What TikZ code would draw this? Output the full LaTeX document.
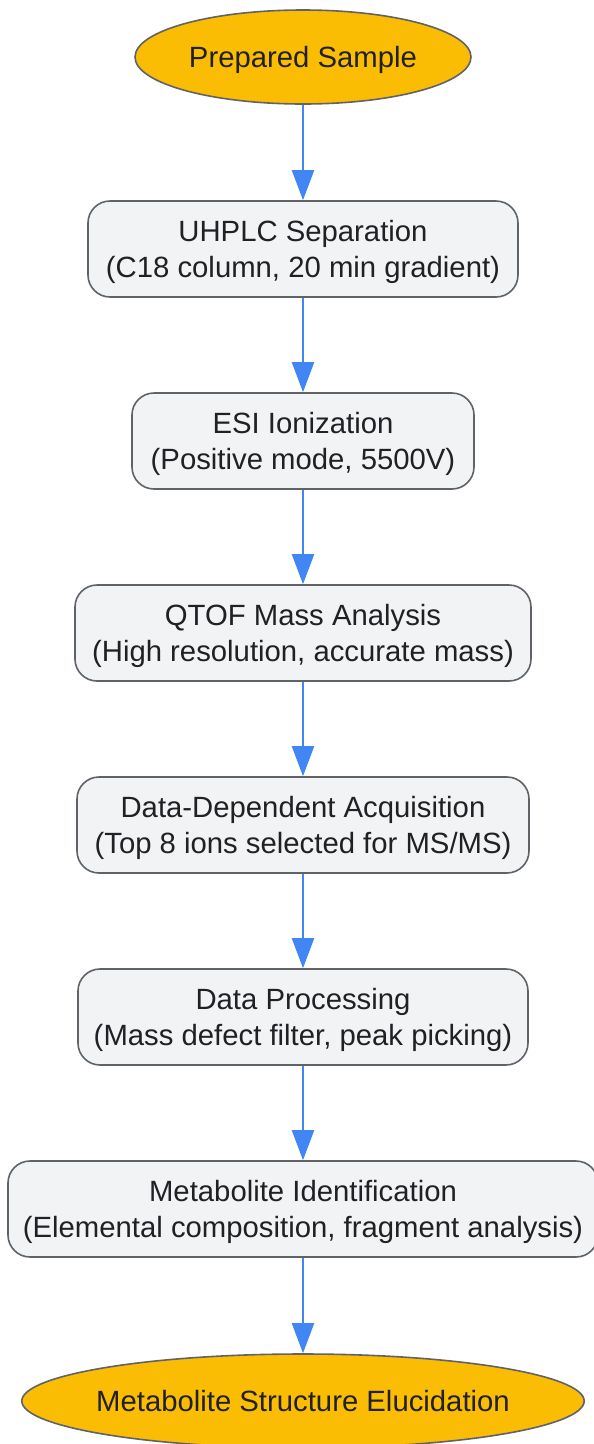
\documentclass[tikz,border=0pt]{standalone}
\usepackage{xcolor}
\usepackage{fontspec}
\setmainfont{Liberation Sans}
\usepackage{tikz}
\usetikzlibrary{shapes,positioning,arrows.meta}

\definecolor{termfill}{HTML}{FBBC04}
\definecolor{stepfill}{HTML}{F1F3F4}
\definecolor{edgegrey}{HTML}{5F6368}
\definecolor{flowblue}{HTML}{4285F4}
\definecolor{inkgrey}{HTML}{202124}

% struts that keep every label at the same height in its box
\newcommand{\linetop}{\rule{0pt}{31.8pt}}
\newcommand{\linebot}{\rule[-10.8pt]{0pt}{10.8pt}}

\tikzset{
  terminal/.style={ellipse,draw=edgegrey,fill=termfill,line width=1.6pt,
    minimum height=94pt,text=inkgrey,inner ysep=0pt,inner xsep=-8pt},
  stage/.style={rectangle,rounded corners=22pt,draw=edgegrey,fill=stepfill,
    line width=1.6pt,minimum height=96pt,align=center,text=inkgrey,inner sep=0pt},
  flow/.style={draw=flowblue,line width=2.2pt,
    -{Triangle[length=30pt,width=22pt]}}
}

\begin{document}
\begin{tikzpicture}[x=1pt,y=-1pt,font=\fontsize{29.3}{36}\selectfont]
\useasboundingbox (0,0) rectangle (594,1444);

\node[terminal,minimum width=336pt] (sample) at (303,57)
  {\linetop Prepared Sample\linebot};
\node[stage,minimum width=430pt] (uhplc) at (303,249)
  {\linetop UHPLC Separation\\(C18 column, 20 min gradient)\linebot};
\node[stage,minimum width=342pt] (esi) at (303,441)
  {\linetop ESI Ionization\\(Positive mode, 5500V)\linebot};
\node[stage,minimum width=456pt] (qtof) at (303,633)
  {\linetop QTOF Mass Analysis\\(High resolution, accurate mass)\linebot};
\node[stage,minimum width=452pt] (dda) at (303,825)
  {\linetop Data-Dependent Acquisition\\(Top 8 ions selected for MS/MS)\linebot};
\node[stage,minimum width=450pt] (proc) at (303,1017)
  {\linetop Data Processing\\(Mass defect filter, peak picking)\linebot};
\node[stage,minimum width=590pt] (ident) at (303,1209)
  {\linetop Metabolite Identification\\(Elemental composition, fragment analysis)\linebot};
\node[terminal,minimum width=560pt] (eluc) at (303,1401)
  {\linetop Metabolite Structure Elucidation\linebot};

\draw[flow] (sample) -- (uhplc);
\draw[flow] (uhplc) -- (esi);
\draw[flow] (esi) -- (qtof);
\draw[flow] (qtof) -- (dda);
\draw[flow] (dda) -- (proc);
\draw[flow] (proc) -- (ident);
\draw[flow] (ident) -- (eluc);

\end{tikzpicture}
\end{document}
